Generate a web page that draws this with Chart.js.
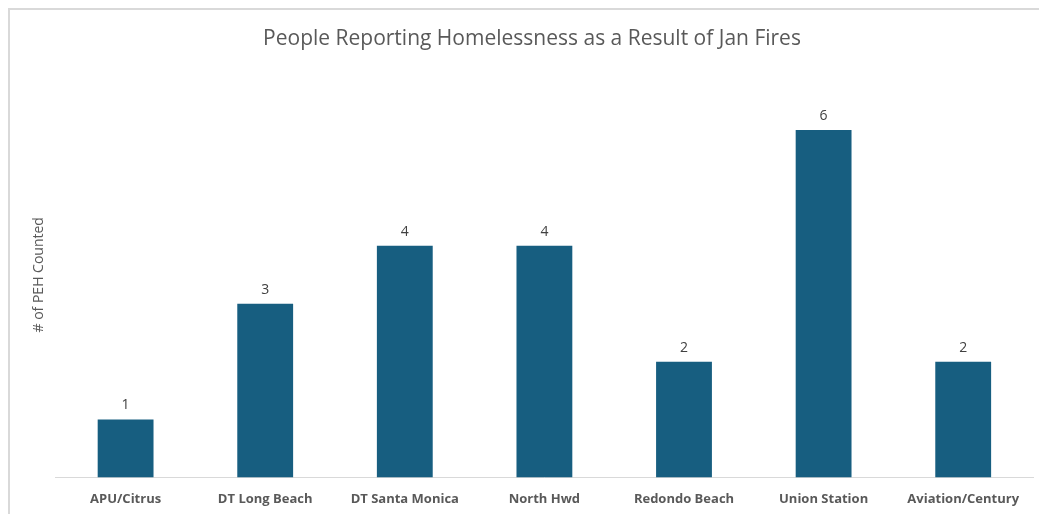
<!DOCTYPE html>
<html>
<head>
<meta charset="utf-8">
<script src="https://cdn.jsdelivr.net/npm/chart.js@4.4.1/dist/chart.umd.min.js"></script>
<style>
  html, body { margin: 0; padding: 0; background: #fff; overflow: hidden; }
  #wrap { position: relative; width: 1039px; height: 514px; overflow: hidden; }
  #frame { position: absolute; left: 8px; top: 8px; right: 0; bottom: 0; border-left: 2px solid #d9d9d9; border-top: 2px solid #d9d9d9; }
  canvas { position: absolute; left: 0; top: 0; }
</style>
</head>
<body>
<div id="wrap">
  <div id="frame"></div>
  <canvas id="myChart" width="1039" height="513"></canvas>
</div>
<script>
var categories = ['APU/Citrus', 'DT Long Beach', 'DT Santa Monica', 'North Hwd', 'Redondo Beach', 'Union Station', 'Aviation/Century'];
var peh_counts = [1, 3, 4, 4, 2, 6, 2];

var barLabels = {
    id: 'barLabels',
    afterDatasetsDraw: function(chart) {
        var ctx = chart.ctx;
        var meta = chart.getDatasetMeta(0);
        ctx.save();
        ctx.font = '14px "Open Sans", sans-serif';
        ctx.fillStyle = '#404040';
        ctx.textAlign = 'center';
        ctx.textBaseline = 'bottom';
        meta.data.forEach(function(bar, i) {
            ctx.fillText(peh_counts[i], bar.x, bar.y - 7);
        });
        ctx.restore();
    }
};

function createChart() {
    var mychart = document.getElementById('myChart').getContext('2d');

    var chart_options = {
        responsive: false,
        animation: false,
        layout: {
            padding: { left: 31, right: 6, top: 10, bottom: 0 }
        },
        scales: {
            x: {
                grid: { display: false },
                border: { display: true, color: '#d9d9d9', width: 1 },
                ticks: {
                    color: '#595959',
                    padding: 6,
                    maxRotation: 0,
                    font: { family: '"Open Sans", sans-serif', size: 13, weight: 'bold' }
                }
            },
            y: {
                min: 0,
                max: 7,
                grid: { display: false },
                border: { display: false },
                ticks: { display: false },
                title: {
                    display: true,
                    text: '# of PEH Counted',
                    color: '#595959',
                    padding: { top: 0, bottom: 0 },
                    font: { family: '"Open Sans", sans-serif', size: 14 }
                }
            }
        },
        plugins: {
            legend: { display: false },
            tooltip: { enabled: false },
            title: {
                display: true,
                text: 'People Reporting Homelessness as a Result of Jan Fires',
                color: '#595959',
                padding: { top: 16, bottom: 21 },
                font: { family: '"Open Sans", sans-serif', size: 21, weight: 'normal' }
            }
        }
    };

    new Chart(mychart, {
        type: 'bar',
        data: {
            labels: categories,
            datasets: [{
                label: '# of PEH Counted',
                data: peh_counts,
                backgroundColor: '#175e80',
                categoryPercentage: 1.0,
                barPercentage: 0.4
            }]
        },
        options: chart_options,
        plugins: [barLabels]
    });
}

createChart();
</script>
</body>
</html>
